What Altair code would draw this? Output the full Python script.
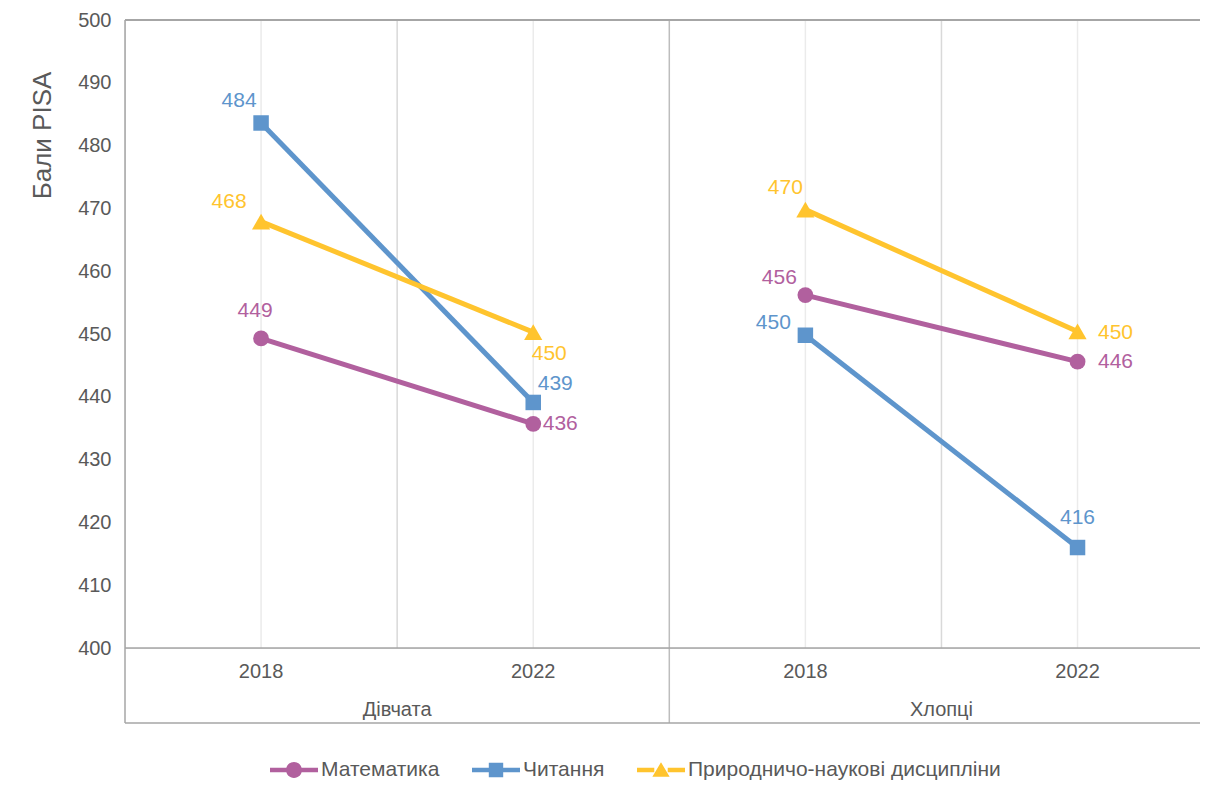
import altair as alt
import pandas as pd

# ---------------- data ----------------
groups = ["Дівчата", "Хлопці"]
years = ["2018", "2022"]
subjects = ["Математика", "Читання", "Природничо-наукові дисципліни"]
# order of values: Дівчата 2018, Дівчата 2022, Хлопці 2018, Хлопці 2022
math_scores = [449.3, 435.7, 456.2, 445.6]
reading_scores = [483.6, 439.1, 449.8, 416.0]
science_scores = [467.9, 450.3, 469.8, 450.4]
y_title = "Бали PISA"

# ---------------- styles ----------------
subject_colors = ["#B1609E", "#5E95CC", "#FFC42E"]
marker_shapes = ["circle", "square", "triangle-up"]
marker_sizes = [250, 240, 330]
FONT = "Liberation Sans"
TXT = "#595959"
FRAME = "#A6A6A6"
W, H = 1075, 628
BOX_BOTTOM = 703

# label offsets in pixels (dx, dy) keyed by group|year|subject
label_offsets = {
    "Дівчата|2018|Читання": (-22, -22),
    "Дівчата|2018|Природничо-наукові дисципліни": (-32, -20),
    "Дівчата|2018|Математика": (-6, -27),
    "Дівчата|2022|Природничо-наукові дисципліни": (16, 22),
    "Дівчата|2022|Читання": (22, -18),
    "Дівчата|2022|Математика": (27, 0),
    "Хлопці|2018|Природничо-наукові дисципліни": (-20, -22),
    "Хлопці|2018|Математика": (-26, -17),
    "Хлопці|2018|Читання": (-32, -12),
    "Хлопці|2022|Природничо-наукові дисципліни": (38, 2),
    "Хлопці|2022|Математика": (38, 0),
    "Хлопці|2022|Читання": (0, -30),
}

# ---------------- tables ----------------
rows = []
for subj, vals in zip(subjects, [math_scores, reading_scores, science_scores]):
    for ci, v in enumerate(vals):
        g = groups[ci // len(years)]
        yr = years[ci % len(years)]
        rows.append({"subject": subj, "group": g, "year": yr, "pos": ci + 0.5,
                     "score": v, "key": f"{g}|{yr}|{subj}"})
df = pd.DataFrame(rows)

cats = df[["group", "year", "pos"]].drop_duplicates().reset_index(drop=True)
grp_df = pd.DataFrame({"group": groups,
                       "pos": [gi * len(years) + len(years) / 2 for gi in range(len(groups))]})
sep_df = pd.DataFrame({"pos": [gi * len(years) for gi in range(1, len(groups))]})

x_enc = alt.X("pos:Q", scale=alt.Scale(domain=[0, 3.95], nice=False, zero=False), axis=None)
y_enc = alt.Y("score:Q",
              scale=alt.Scale(domain=[400, 500], nice=False, zero=False),
              axis=alt.Axis(values=list(range(400, 501, 10)), ticks=False, domain=False, grid=False,
                            labelFont=FONT, labelFontSize=20, labelColor=TXT, labelPadding=14,
                            labelFlush=False, title=y_title, titleFont=FONT, titleFontSize=26,
                            titleFontWeight="normal", titleColor=TXT, titleX=-83, titleY=115,
                            titleAngle=270, titleAlign="center", titleBaseline="middle"))

stroke_scale = alt.Scale(domain=subjects, range=subject_colors)

# ---------------- grid & frame ----------------
grid_center = alt.Chart(cats).mark_rule(color="#EBEBEB", strokeWidth=1.5).encode(
    x=x_enc, y=alt.value(0), y2=alt.value(H))
grid_mid = alt.Chart(grp_df).mark_rule(color="#D9D9D9", strokeWidth=1.5).encode(
    x=x_enc, y=alt.value(0), y2=alt.value(H))
sep = alt.Chart(sep_df).mark_rule(color="#BDBDBD", strokeWidth=1.5).encode(
    x=x_enc, y=alt.value(0), y2=alt.value(BOX_BOTTOM))

frame_src = alt.Chart(grp_df.head(1))
top_line = frame_src.mark_rule(color=FRAME, strokeWidth=2).encode(
    x=alt.value(0), x2=alt.value(W), y=alt.value(0))
axis_line = frame_src.mark_rule(color=FRAME, strokeWidth=1.5).encode(
    x=alt.value(0), x2=alt.value(W), y=alt.value(H))
box_line = frame_src.mark_rule(color=FRAME, strokeWidth=1.5).encode(
    x=alt.value(0), x2=alt.value(W), y=alt.value(BOX_BOTTOM))
left_line = frame_src.mark_rule(color=FRAME, strokeWidth=1.5).encode(
    x=alt.value(0), y=alt.value(0), y2=alt.value(BOX_BOTTOM))

# ---------------- legend (line + marker symbols) ----------------
def seg(h=0.094):
    return f"M-1,-{h}H-0.28V{h}H-1Z M0.28,-{h}H1V{h}H0.28Z "

legend_paths = [
    seg() + "M0.333,0A0.333,0.333 0 1,1 -0.333,0A0.333,0.333 0 1,1 0.333,0Z",
    seg() + "M-0.3,-0.3H0.3V0.3H-0.3Z",
    seg() + "M0,-0.32L0.36,0.28L-0.36,0.28Z",
]
leg = alt.Legend(title=None, orient="none", direction="horizontal", legendX=145, legendY=726,
                 symbolSize=2304, symbolStrokeWidth=0, labelFont=FONT, labelFontSize=21,
                 labelColor=TXT, labelOffset=3, columnPadding=32, labelLimit=600)
legend_layer = alt.Chart(df).mark_point(filled=True, size=1, opacity=1).encode(
    x=x_enc, y=y_enc,
    color=alt.Color("subject:N", scale=alt.Scale(domain=subjects, range=subject_colors), legend=leg),
    shape=alt.Shape("subject:N", scale=alt.Scale(domain=subjects, range=legend_paths), legend=leg),
)

# ---------------- data marks ----------------
lines = alt.Chart(df).mark_line(strokeWidth=5).encode(
    x=x_enc, y=y_enc,
    stroke=alt.Stroke("subject:N", scale=stroke_scale, legend=None),
    detail="group:N",
)

point_layers = []
for subj, shp, sz in zip(subjects, marker_shapes, marker_sizes):
    point_layers.append(
        alt.Chart(df).transform_filter(alt.datum.subject == subj)
        .mark_point(filled=True, shape=shp, size=sz, opacity=1, strokeWidth=0)
        .encode(x=x_enc, y=y_enc,
                fill=alt.Fill("subject:N", scale=stroke_scale, legend=None))
    )

label_layers = []
for key, (dx, dy) in label_offsets.items():
    label_layers.append(
        alt.Chart(df).transform_filter(alt.datum.key == key)
        .mark_text(dx=dx, dy=dy, font=FONT, fontSize=21, align="center", baseline="middle")
        .encode(x=x_enc, y=y_enc, text=alt.Text("score:Q", format=".0f"),
                fill=alt.Fill("subject:N", scale=stroke_scale, legend=None))
    )

year_labels = alt.Chart(cats).mark_text(font=FONT, fontSize=20, color=TXT, baseline="middle").encode(
    x=x_enc, y=alt.value(652), text="year:N")
group_labels = alt.Chart(grp_df).mark_text(font=FONT, fontSize=20, color=TXT, baseline="middle").encode(
    x=x_enc, y=alt.value(690), text="group:N")

chart = alt.layer(
    grid_center, grid_mid, sep, top_line, axis_line, box_line, left_line,
    legend_layer, lines, *point_layers, *label_layers, year_labels, group_labels,
).properties(
    width=W, height=H,
    padding={"left": 117, "top": 12, "right": 0, "bottom": 133},
    autosize=alt.AutoSizeParams(type="none"),
).configure_view(stroke=None).configure(background="white")

chart.save("out.html", embed_options={"renderer": "svg", "actions": False})
